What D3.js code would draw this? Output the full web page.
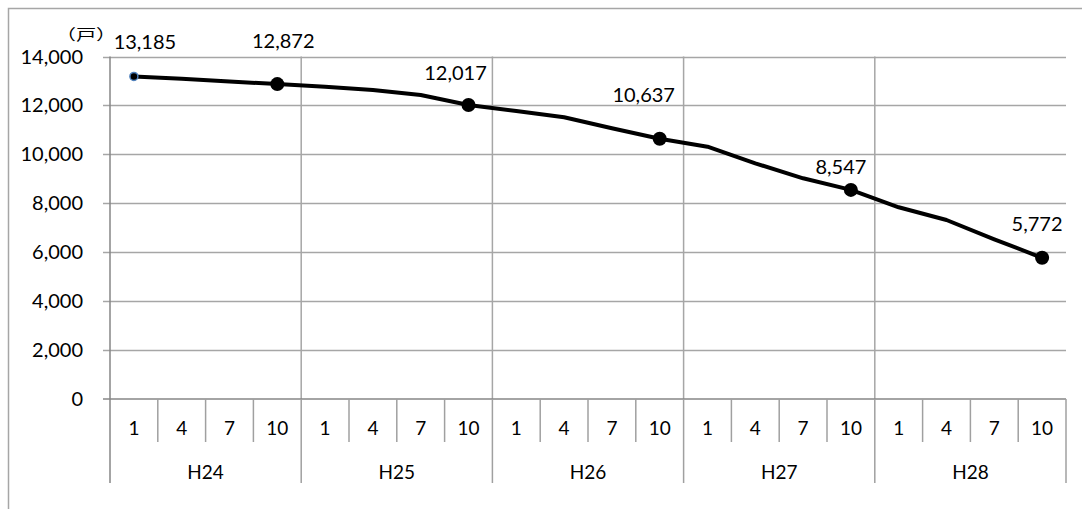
<!DOCTYPE html>
<html>
<head>
<meta charset="utf-8">
<script src="https://cdn.jsdelivr.net/npm/d3@7"></script>
<style>
  body { margin: 0; background: #fff; }
  text { font-family: Lato, "Noto Sans", sans-serif; fill: #000; }
  text.unit { font-family: "Noto Sans CJK JP", "Noto Sans CJK SC", sans-serif; }
</style>
</head>
<body>
<div id="chart"></div>
<script>
// Data
const years = ["H24", "H25", "H26", "H27", "H28"];
const months = ["1", "4", "7", "10"];
const values = [13185, 13090, 12980, 12872, 12765, 12630, 12426, 12017,
                11772, 11515, 11065, 10637, 10313, 9634, 9021, 8547,
                7836, 7317, 6528, 5772];
const labelledIdx = [0, 3, 7, 11, 15, 19];
const yTicks = [0, 2000, 4000, 6000, 8000, 10000, 12000, 14000];
// label nudges (dx, dy) relative to the point
const labelNudge = [[11, -34], [6, -43], [-13, -32], [-16, -44], [-10, -23], [-5, -34]];

const width = 1082;
const height = 509;
const margin = {top: 56.5, right: 16, bottom: 110, left: 110};

const svg = d3.select("#chart")
    .append("svg")
    .attr("width", width)
    .attr("height", height);

// Outer chart border (only top and left visible)
svg.append("path")
    .attr("d", `M8.5,${height} V8.5 H${width}`)
    .attr("fill", "none")
    .attr("stroke", "#a6a6a6")
    .attr("stroke-width", 1.5);

const cats = [];
years.forEach(y => months.forEach(m => cats.push(y + "-" + m)));

const x = d3.scaleBand()
    .domain(cats)
    .range([margin.left, width - margin.right]);

const y = d3.scaleLinear()
    .domain([0, 14000])
    .range([height - margin.bottom, margin.top]);

const x0 = margin.left, x1 = width - margin.right;
const y0 = y(0);

// Horizontal gridlines + y ticks
svg.append("g")
    .selectAll("line")
    .data(yTicks.filter(d => d > 0))
    .join("line")
    .attr("x1", x0 - 7).attr("x2", x1)
    .attr("y1", d => Math.round(y(d)) + 0.5).attr("y2", d => Math.round(y(d)) + 0.5)
    .attr("stroke", "#a6a6a6")
    .attr("stroke-width", 1.5);

// Vertical gridlines at year boundaries
svg.append("g")
    .selectAll("line")
    .data(years.slice(1))
    .join("line")
    .attr("x1", d => x(d + "-1")).attr("x2", d => x(d + "-1"))
    .attr("y1", margin.top).attr("y2", y0)
    .attr("stroke", "#a6a6a6")
    .attr("stroke-width", 1.5);

// Y axis line
svg.append("line")
    .attr("x1", x0).attr("x2", x0)
    .attr("y1", margin.top).attr("y2", y0 + 84)
    .attr("stroke", "#868686").attr("stroke-width", 1.5);

// X axis line + zero tick
svg.append("line")
    .attr("x1", x0 - 7).attr("x2", x1)
    .attr("y1", y0).attr("y2", y0)
    .attr("stroke", "#868686").attr("stroke-width", 1.5);

// Month separators (short) and year separators (long)
svg.append("g")
    .selectAll("line")
    .data(cats.slice(1))
    .join("line")
    .attr("x1", d => x(d)).attr("x2", d => x(d))
    .attr("y1", y0)
    .attr("y2", d => d.endsWith("-1") ? y0 + 84 : y0 + 43)
    .attr("stroke", "#a0a0a0").attr("stroke-width", 1.5);

svg.append("line")
    .attr("x1", x1).attr("x2", x1)
    .attr("y1", y0).attr("y2", y0 + 84)
    .attr("stroke", "#a0a0a0").attr("stroke-width", 1.5);

// Y tick labels
svg.append("g")
    .selectAll("text")
    .data(yTicks)
    .join("text")
    .attr("x", 83)
    .attr("y", d => y(d))
    .attr("dy", "0.35em")
    .attr("text-anchor", "end")
    .style("font-size", "20px")
    .text(d => d3.format(",")(d));

// Month labels
svg.append("g")
    .selectAll("text")
    .data(cats)
    .join("text")
    .attr("x", d => x(d) + x.bandwidth() / 2)
    .attr("y", y0 + 29)
    .attr("dy", "0.35em")
    .attr("text-anchor", "middle")
    .style("font-size", "19px")
    .text(d => d.split("-")[1]);

// Year labels
svg.append("g")
    .selectAll("text")
    .data(years)
    .join("text")
    .attr("x", d => x(d + "-1") + x.bandwidth() * 2)
    .attr("y", y0 + 73)
    .attr("dy", "0.35em")
    .attr("text-anchor", "middle")
    .style("font-size", "19px")
    .text(d => d);

// Unit (wide, short glyphs like the original)
svg.append("text")
    .attr("class", "unit")
    .attr("transform", "translate(86,35) scale(1.35,1)")
    .attr("dy", "0.35em")
    .attr("text-anchor", "middle")
    .attr("font-size", 15)
    .text("（戸）");

// Line
const px = (d, i) => x(cats[i]) + x.bandwidth() / 2;
const line = d3.line()
    .x(px)
    .y(d => y(d));

svg.append("path")
    .datum(values)
    .attr("d", line)
    .attr("fill", "none")
    .attr("stroke", "#000")
    .attr("stroke-width", 4)
    .attr("stroke-linejoin", "round");

// Markers
svg.append("g")
    .selectAll("circle")
    .data(labelledIdx)
    .join("circle")
    .attr("cx", i => px(values[i], i))
    .attr("cy", i => y(values[i]))
    .attr("r", i => i === 0 ? 4 : 7)
    .attr("fill", "#000")
    .attr("stroke", i => i === 0 ? "#4f81bd" : "none")
    .attr("stroke-width", 1.5);

// Data labels
svg.append("g")
    .selectAll("text")
    .data(labelledIdx)
    .join("text")
    .attr("x", (i, k) => px(values[i], i) + labelNudge[k][0])
    .attr("y", (i, k) => y(values[i]) + labelNudge[k][1])
    .attr("dy", "0.35em")
    .attr("text-anchor", "middle")
    .style("font-size", "20px")
    .text(i => d3.format(",")(values[i]));
</script>
</body>
</html>
